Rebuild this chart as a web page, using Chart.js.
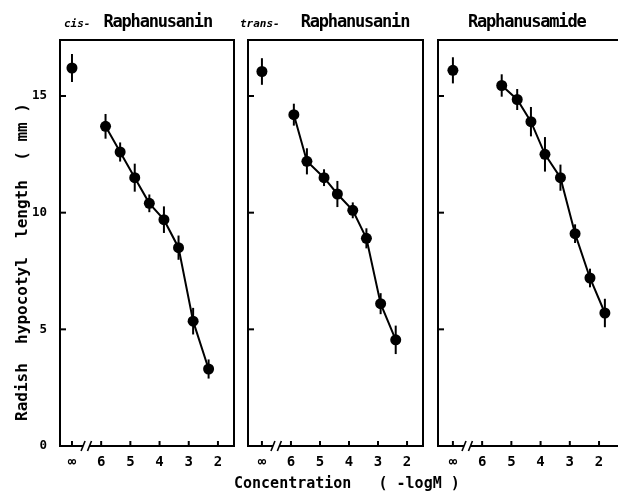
<!DOCTYPE html>
<html><head><meta charset="utf-8">
<script src="https://cdn.jsdelivr.net/npm/chart.js@4/dist/chart.umd.min.js"></script>
<style>
html,body{margin:0;padding:0;background:#fff;width:618px;height:494px;overflow:hidden;position:relative;}
canvas{position:absolute;top:0;}
.title{position:absolute;white-space:nowrap;font-family:"DejaVu Sans Mono";color:#000;line-height:20px;}
.it{font-size:11px;font-weight:bold;font-style:italic;}
.main{font-size:17px;font-weight:bold;letter-spacing:-1.2px;display:inline-block;}
.axt{position:absolute;white-space:pre;font-family:"DejaVu Sans Mono";font-weight:bold;color:#000;font-size:15px;line-height:18px;}
</style></head><body>
<canvas id="c1" width="240" height="494" style="left:0px"></canvas>
<canvas id="c2" width="190" height="494" style="left:240px"></canvas>
<canvas id="c3" width="200" height="494" style="left:430px"></canvas>

<div class="title" style="left:64px;top:11px"><span class="it">cis-</span><span class="main" style="margin-left:13px">Raphanusanin</span></div>
<div class="title" style="left:240px;top:11px"><span class="it">trans-</span><span class="main" style="margin-left:21px">Raphanusanin</span></div>
<div class="title" style="left:468px;top:11px"><span class="main">Raphanusamide</span></div>

<div class="axt" style="left:234px;top:474px">Concentration   ( -logM )</div>
<div class="axt" style="left:-143px;top:253px;width:330px;text-align:center;font-size:16px;transform:rotate(-90deg);transform-origin:center;">Radish  hypocotyl  length  ( mm )</div>

<script>
// ----- data -----
const xTicks = [7, 6, 5, 4, 3, 2];            // 7 stands for the control (∞)
const xTickLabels = ['∞', '6', '5', '4', '3', '2'];
const yTicks = [0, 5, 10, 15];
const yTickLabels = ['0', '5', '10', '15'];
const controlX = 7;
const breakAt = 6.5;

const cisDose    = [5.85, 5.35, 4.85, 4.35, 3.85, 3.35, 2.85, 2.32];
const cisLength  = [13.7, 12.6, 11.5, 10.4, 9.7, 8.5, 5.35, 3.3];
const cisError   = [0.53, 0.41, 0.6, 0.38, 0.57, 0.52, 0.57, 0.41];
const cisControl = 16.2, cisControlErr = 0.6;

const transDose    = [5.9, 5.45, 4.86, 4.4, 3.87, 3.4, 2.91, 2.39];
const transLength  = [14.2, 12.2, 11.5, 10.8, 10.1, 8.9, 6.1, 4.55];
const transError   = [0.47, 0.56, 0.36, 0.56, 0.34, 0.43, 0.45, 0.61];
const transControl = 16.05, transControlErr = 0.57;

const amideDose    = [5.33, 4.8, 4.33, 3.85, 3.32, 2.82, 2.31, 1.8];
const amideLength  = [15.45, 14.85, 13.9, 12.5, 11.5, 9.1, 7.2, 5.7];
const amideError   = [0.48, 0.45, 0.63, 0.74, 0.56, 0.4, 0.4, 0.61];
const amideControl = 16.1, amideControlErr = 0.56;

Chart.defaults.font.family = '"DejaVu Sans Mono"';
Chart.defaults.color = '#000';

const framePlugin = {
  id: 'frame',
  beforeDatasetsDraw(chart) {
    const ctx = chart.ctx, y = chart.scales.y;
    ctx.save();
    ctx.strokeStyle = '#000'; ctx.lineWidth = 2;
    chart.data.datasets.forEach((ds, i) => {
      const meta = chart.getDatasetMeta(i);
      meta.data.forEach((pt, j) => {
        const v = ds.data[j].y, e = ds.errors[j];
        ctx.beginPath();
        ctx.moveTo(pt.x, y.getPixelForValue(v + e));
        ctx.lineTo(pt.x, y.getPixelForValue(v - e));
        ctx.stroke();
      });
    });
    ctx.restore();
  },
  afterDraw(chart) {
    const ctx = chart.ctx, a = chart.chartArea, xs = chart.scales.x, ys = chart.scales.y;
    ctx.save();
    ctx.strokeStyle = '#000'; ctx.lineWidth = 2; ctx.lineCap = 'butt';
    const bx1 = xs.getPixelForValue(breakAt + 0.12), bx2 = xs.getPixelForValue(breakAt - 0.1);
    ctx.beginPath();
    ctx.moveTo(bx1, a.bottom); ctx.lineTo(a.left, a.bottom);
    ctx.lineTo(a.left, a.top); ctx.lineTo(a.right, a.top);
    ctx.lineTo(a.right, a.bottom); ctx.lineTo(bx2, a.bottom);
    ctx.stroke();
    ctx.lineWidth = 1.6;
    [bx1, bx2].forEach(bx => {
      ctx.beginPath();
      ctx.moveTo(bx - 2, a.bottom + 5); ctx.lineTo(bx + 2, a.bottom - 5);
      ctx.stroke();
    });
    ctx.lineWidth = 2;
    xTicks.forEach(v => {
      const px = xs.getPixelForValue(v);
      ctx.beginPath(); ctx.moveTo(px, a.bottom); ctx.lineTo(px, a.bottom - 5); ctx.stroke();
    });
    yTicks.forEach(v => {
      const py = ys.getPixelForValue(v);
      ctx.beginPath(); ctx.moveTo(a.left, py); ctx.lineTo(a.left + 6, py); ctx.stroke();
    });
    ctx.restore();
  }
};

function makeChart(id, dose, len, err, ctrl, ctrlErr, showY, xMin, xMax, padL, padR) {
  return new Chart(document.getElementById(id), {
    type: 'scatter',
    data: {
      datasets: [
        { data: [{x: controlX, y: ctrl}], errors: [ctrlErr], showLine: false,
          pointRadius: 5.5, pointBackgroundColor: '#000', pointBorderColor: '#000', pointBorderWidth: 0 },
        { data: dose.map((d, i) => ({x: d, y: len[i]})), errors: err, showLine: true,
          borderColor: '#000', borderWidth: 2, tension: 0,
          pointRadius: 5.5, pointBackgroundColor: '#000', pointBorderColor: '#000', pointBorderWidth: 0 }
      ]
    },
    options: {
      responsive: false, animation: false, devicePixelRatio: 1,
      layout: { padding: { top: 40, left: padL, right: padR, bottom: 0 } },
      plugins: { legend: { display: false }, tooltip: { enabled: false }, title: { display: false } },
      scales: {
        x: {
          type: 'linear', reverse: true, min: xMin, max: xMax,
          afterBuildTicks: s => { s.ticks = xTicks.map(v => ({ value: v })); },
          afterFit: s => { s.height = 48; },
          grid: { display: false, drawTicks: false }, border: { display: false },
          ticks: { padding: 8, color: '#000', autoSkip: false, maxRotation: 0,
                   font: { size: 14, weight: 'bold' },
                   callback: (v, i) => xTickLabels[i] }
        },
        y: {
          display: showY, min: 0, max: 17.4,
          afterBuildTicks: s => { s.ticks = yTicks.map(v => ({ value: v })); },
          afterFit: s => { s.width = showY ? 60 : 0; },
          grid: { display: false, drawTicks: false }, border: { display: false },
          ticks: { padding: 13, color: '#000', font: { size: 12.5, weight: 'bold' },
                   callback: (v, i) => yTickLabels[i] }
        }
      }
    },
    plugins: [framePlugin]
  });
}

makeChart('c1', cisDose, cisLength, cisError, cisControl, cisControlErr, true, 1.45, 7.41, 0, 6);
makeChart('c2', transDose, transLength, transError, transControl, transControlErr, false, 1.45, 7.48, 8, 7);
makeChart('c3', amideDose, amideLength, amideError, amideControl, amideControlErr, false, 1.18, 7.51, 8, 7);
</script>
</body></html>
